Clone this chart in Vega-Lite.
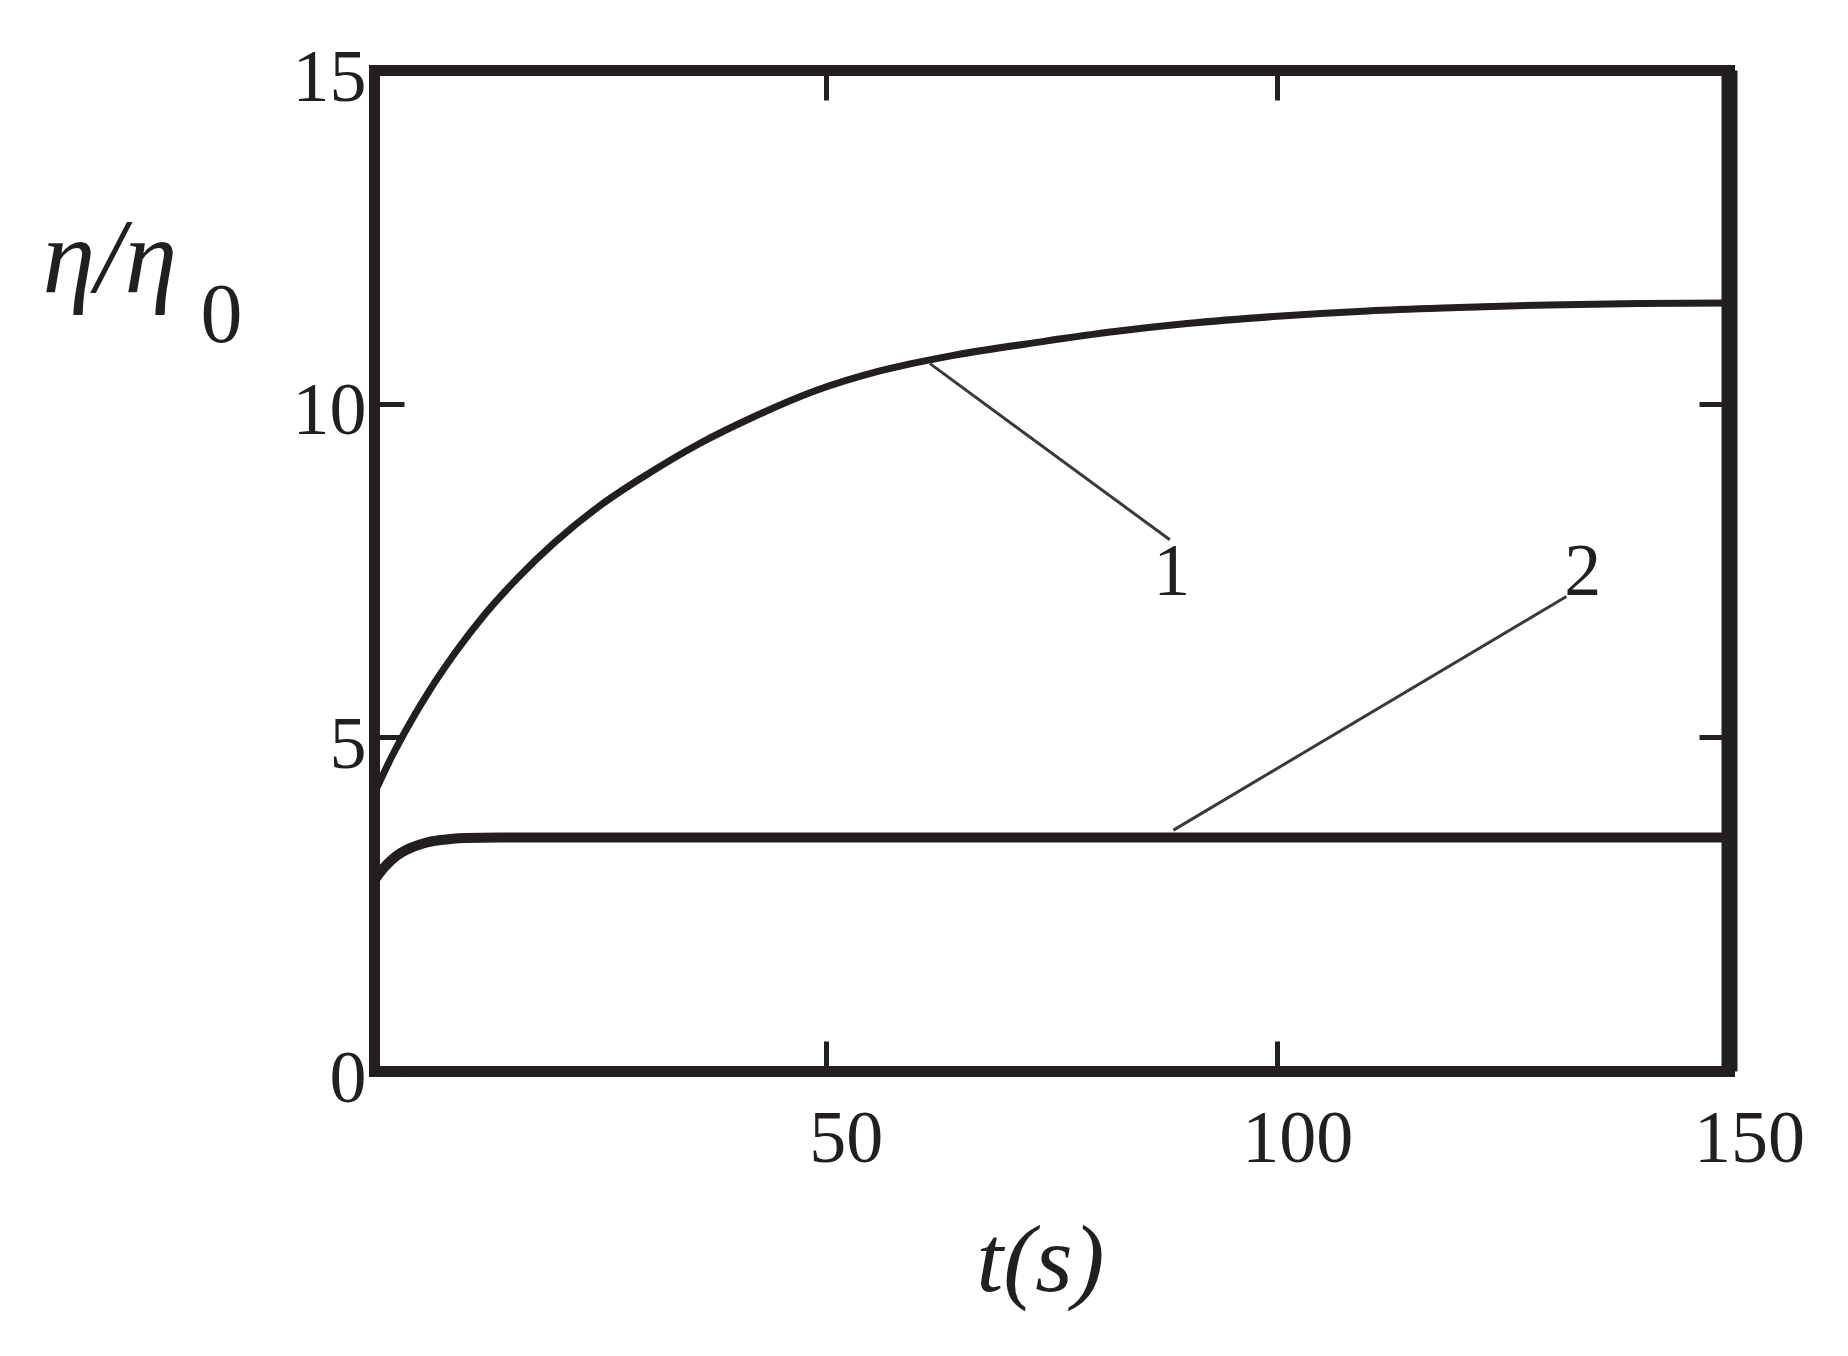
{
  "$schema": "https://vega.github.io/schema/vega-lite/v6.json",
  "width": 1355,
  "height": 1001,
  "autosize": {"type": "none"},
  "padding": {"left": 374, "top": 70, "right": 119, "bottom": 285},
  "background": "white",
  "config": {"view": {"stroke": null}, "axis": {"grid": false}},
  "datasets": {
    "curves": [
      {"t": 0, "ratio": 4.15, "curve": "1"},
      {"t": 2, "ratio": 4.72, "curve": "1"},
      {"t": 4, "ratio": 5.22, "curve": "1"},
      {"t": 6, "ratio": 5.67, "curve": "1"},
      {"t": 9, "ratio": 6.27, "curve": "1"},
      {"t": 12, "ratio": 6.8, "curve": "1"},
      {"t": 16, "ratio": 7.4, "curve": "1"},
      {"t": 20, "ratio": 7.92, "curve": "1"},
      {"t": 25, "ratio": 8.47, "curve": "1"},
      {"t": 30, "ratio": 8.92, "curve": "1"},
      {"t": 36, "ratio": 9.4, "curve": "1"},
      {"t": 42, "ratio": 9.8, "curve": "1"},
      {"t": 49, "ratio": 10.2, "curve": "1"},
      {"t": 56, "ratio": 10.49, "curve": "1"},
      {"t": 64, "ratio": 10.72, "curve": "1"},
      {"t": 74, "ratio": 10.93, "curve": "1"},
      {"t": 82, "ratio": 11.08, "curve": "1"},
      {"t": 90, "ratio": 11.2, "curve": "1"},
      {"t": 100, "ratio": 11.31, "curve": "1"},
      {"t": 110, "ratio": 11.39, "curve": "1"},
      {"t": 120, "ratio": 11.44, "curve": "1"},
      {"t": 130, "ratio": 11.48, "curve": "1"},
      {"t": 140, "ratio": 11.5, "curve": "1"},
      {"t": 150, "ratio": 11.51, "curve": "1"},
      {"t": 0, "ratio": 2.85, "curve": "2"},
      {"t": 1, "ratio": 3.03, "curve": "2"},
      {"t": 2, "ratio": 3.17, "curve": "2"},
      {"t": 3, "ratio": 3.27, "curve": "2"},
      {"t": 4, "ratio": 3.34, "curve": "2"},
      {"t": 5, "ratio": 3.39, "curve": "2"},
      {"t": 6, "ratio": 3.43, "curve": "2"},
      {"t": 8, "ratio": 3.47, "curve": "2"},
      {"t": 10, "ratio": 3.49, "curve": "2"},
      {"t": 14, "ratio": 3.5, "curve": "2"},
      {"t": 20, "ratio": 3.5, "curve": "2"},
      {"t": 150, "ratio": 3.5, "curve": "2"}
    ],
    "leaders": [
      {"id": "1", "t": 61.55, "ratio": 10.6},
      {"id": "1", "t": 88.1, "ratio": 7.96},
      {"id": "2", "t": 88.5, "ratio": 3.61},
      {"id": "2", "t": 132.0, "ratio": 7.11}
    ],
    "labels": [
      {"label": "1", "t": 88.3, "ratio": 7.46},
      {"label": "2", "t": 133.8, "ratio": 7.46}
    ]
  },
  "resolve": {"axis": {"x": "independent", "y": "independent"}},
  "layer": [
    {
      "data": {"name": "curves"},
      "mark": {"type": "line", "color": "#231f20", "interpolate": "monotone"},
      "encoding": {
        "x": {
          "field": "t", "type": "quantitative",
          "scale": {"domain": [0, 150], "nice": false, "zero": false},
          "axis": {
            "orient": "bottom", "values": [50, 100, 150],
            "domain": true, "domainColor": "#231f20", "domainWidth": 11, "domainCap": "square",
            "ticks": true, "tickColor": "#231f20", "tickWidth": 5, "tickSize": -30,
            "labelFont": "Liberation Serif", "labelFontSize": 74, "labelColor": "#231f20",
            "labelPadding": 62, "labelOffset": 20, "labelBaseline": "top",
            "labelFlush": false, "labelOverlap": false,
            "title": "t(s)", "titleFont": "Liberation Serif", "titleFontStyle": "italic",
            "titleFontWeight": "normal", "titleFontSize": 96, "titleColor": "#231f20",
            "titleX": 666, "titleY": 219, "titleBaseline": "alphabetic", "titleAlign": "center"
          }
        },
        "y": {
          "field": "ratio", "type": "quantitative",
          "scale": {"domain": [0, 15], "nice": false, "zero": false},
          "axis": {
            "orient": "left", "values": [0, 5, 10, 15],
            "domain": true, "domainColor": "#231f20", "domainWidth": 11, "domainCap": "square",
            "ticks": true, "tickColor": "#231f20", "tickWidth": 5, "tickSize": -30,
            "labelFont": "Liberation Serif", "labelFontSize": 74, "labelColor": "#231f20",
            "labelPadding": 38, "labelOffset": 8, "labelBaseline": "middle", "labelAlign": "right",
            "labelFlush": false, "labelOverlap": false,
            "title": "η/η", "titleFont": "Liberation Serif", "titleFontStyle": "italic",
            "titleFontWeight": "normal", "titleFontSize": 106, "titleColor": "#231f20",
            "titleAngle": 0, "titleX": -332, "titleY": 221, "titleBaseline": "alphabetic", "titleAlign": "left"
          }
        },
        "detail": {"field": "curve"},
        "strokeWidth": {"field": "curve", "type": "nominal", "scale": {"domain": ["1", "2"], "range": [7, 10]}, "legend": null}
      }
    },
    {
      "data": {"name": "leaders"},
      "mark": {"type": "line", "color": "#3a3a3a", "strokeWidth": 3},
      "encoding": {
        "x": {
          "field": "t", "type": "quantitative",
          "axis": {
            "orient": "top", "values": [50, 100],
            "domain": true, "domainColor": "#231f20", "domainWidth": 11, "domainCap": "square",
            "ticks": true, "tickColor": "#231f20", "tickWidth": 5, "tickSize": -30,
            "labels": false, "title": null
          }
        },
        "y": {
          "field": "ratio", "type": "quantitative",
          "axis": {
            "orient": "right", "values": [5, 10],
            "domain": true, "domainColor": "#231f20", "domainWidth": 16, "domainCap": "butt",
            "ticks": true, "tickColor": "#231f20", "tickWidth": 5, "tickSize": -30,
            "labels": false,
            "title": "0", "titleFont": "Liberation Serif", "titleFontStyle": "normal",
            "titleFontWeight": "normal", "titleFontSize": 84, "titleColor": "#231f20",
            "titleAngle": 0, "titleX": -1529, "titleY": 271, "titleBaseline": "alphabetic", "titleAlign": "left"
          }
        },
        "detail": {"field": "id"}
      }
    },
    {
      "data": {"name": "labels"},
      "mark": {"type": "text", "font": "Liberation Serif", "fontSize": 74, "color": "#231f20", "align": "center", "baseline": "middle"},
      "encoding": {
        "x": {"field": "t", "type": "quantitative", "axis": null},
        "y": {"field": "ratio", "type": "quantitative", "axis": null},
        "text": {"field": "label"}
      }
    }
  ]
}
